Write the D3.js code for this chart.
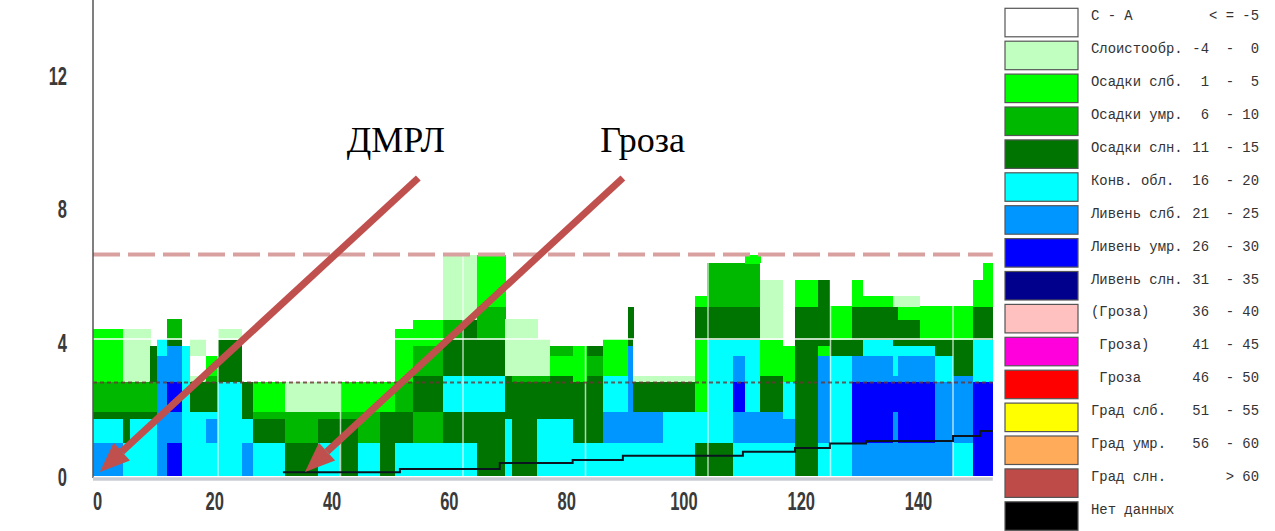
<!DOCTYPE html>
<html>
<head>
<meta charset="utf-8">
<title>ДМРЛ - вертикальный разрез</title>
<script src="https://cdn.jsdelivr.net/npm/d3@7"></script>
<style>
  body { margin: 0; background: #fff; }
  svg { display: block; }
</style>
</head>
<body>
<svg id="chart" width="1275" height="531"></svg>
<script>
// layer borders (height, km)
var levels = [-0.15, 0.85, 1.6, 1.8, 2.7, 2.9, 3.5, 3.8, 4.0, 4.3, 4.6, 5.0, 5.3, 5.8, 6.3, 6.55];

// start time of each column, min
var colStart = [-0.4, 4.5, 5.6, 8.9, 10.0, 11.7, 14.1, 15.4, 18.0, 20.0,
                23.9, 25.7, 30.9, 36.3, 39.9, 42.9, 46.4, 48.9, 51.8, 56.7,
                59.8, 62.3, 66.9, 68.0, 72.1, 74.2, 77.9, 80.2, 82.9, 86.9,
                87.8, 92.7, 97.9, 99.8, 104.1, 106.0, 108.5, 112.2, 114.2, 117.9,
                119.9, 123.5, 125.3, 130.2, 131.0, 134.6, 137.1, 140.0, 143.3, 144.9];
var colEnd = 146.5;

// phenomenon code per layer, from the ground up
// W С-А, L слоистообр., G/M/D осадки слб/умр/слн, C конв., B/U/N ливень слб/умр/слн
var profiles = [
  "BCDMGGGGG", "CDDMLLLLL", "CCDMLLLLL", "CCDMDDD", "BBBBBBCC",
  "UBBUBBBDMM", "CCCCCCC", "CCCDLWLL", "CBCDMG", "CCCCDDDDL",
  "BCDD", "CDMG", "DMML", "CDML", "DDMG",
  "CMMG", "DDDG", "CDDMGGGGG", "CMMDDMMGGGW", "CDDCCDDDMMLLLLL",
  "CDDCCDDDDDLLLLL", "DDDCCDDDMMMGGGG", "CCDDDLLLLL", "DDDDMLLLLL", "CCDDMLLL",
  "CCDDDGM", "CDDDGGGWWWW", "CDDDDMD", "CBBCCGGG", "CBBBBBBDDDDWW",
  "CBBDLWWW", "CCCDLWWW", "DCCGGGGGDDDG", "DCCCCCCCDDDMMM", "CBBUBBCCDDDMMM",
  "CBBCCCCCDDDMMMG", "CBBDDGGGLLLLLW", "CBCCGGGWWWWWW", "DDDDDDDDDDDGG", "CBBBBBGDDDDDD",
  "CCCCCCDDGGG", "BUUUBBDDDDDGG", "BUUUBBCCDDDG", "BBBUBCCDDDDL", "BUUUBBCDDDGL",
  "BUUUBBCDGGG", "BBBBCCDDGGG", "CBBBBDDDGGG", "UUUUCCCCDDDGG", "UUUUCCCCDDDGGG"
];

// stepped black line
var lineT = [30.6, 49.7, 66.0, 77.9, 86.1, 105.7, 114.2, 119.9, 125.8, 140.0, 144.4, 146.5];
var lineH = [-0.04, 0.06, 0.24, 0.33, 0.46, 0.58, 0.70, 0.83, 0.91, 1.06, 1.21, 1.21];

var dashedLevel = 6.56;
var dottedLevel = 2.68;

var xTicks = [0, 20, 40, 60, 80, 100, 120, 140];
var yTicks = [0, 4, 8, 12];

var codes = "WLGMDCBUN";
var legendNames = ["С - А", "Слоистообр.", "Осадки слб.", "Осадки умр.", "Осадки слн.",
  "Конв. обл.", "Ливень слб.", "Ливень умр.", "Ливень слн.", "(Гроза)", " Гроза)",
  " Гроза", "Град слб.", "Град умр.", "Град слн.", "Нет данных"];
var legendRanges = ["< = -5", "-4  -  0", " 1  -  5", " 6  - 10", "11  - 15", "16  - 20",
  "21  - 25", "26  - 30", "31  - 35", "36  - 40", "41  - 45", "46  - 50", "51  - 55",
  "56  - 60", "> 60", ""];
var legendColors = ["#ffffff", "#c0ffc0", "#00ff00", "#00b800", "#007400", "#00ffff",
  "#0096ff", "#0000ff", "#00008c", "#ffc0c0", "#ff00dd", "#ff0000", "#ffff00",
  "#ffab5a", "#be4b48", "#000000"];

// annotations
var notes = [
  {text: "ДМРЛ", t: 41.0, h: 9.67, t0: 52.7, h0: 8.88, t1: 0.7, h1: -0.03},
  {text: "Гроза", t: 82.4, h: 9.67, t0: 86.1, h0: 8.88, t1: 34.2, h1: -0.03}
];

var svg = d3.select("#chart");

var x = d3.scaleLinear().domain([0, 140]).range([95.5, 953]);
var y = d3.scaleLinear().domain([0, 12]).range([471, 75]);
var xLab = d3.scaleLinear().domain([0, 140]).range([97, 918]);
var yLab = d3.scaleLinear().domain([0, 12]).range([477, 76]);

var left = 93, right = x(colEnd), top = 8, bottom = 478;

// backgrounds
svg.append("rect").attr("x", 0).attr("y", 0).attr("width", 1275).attr("height", 531).attr("fill", "#fff");
svg.append("rect").attr("x", 7).attr("y", top).attr("width", 1268).attr("height", 531 - top).attr("fill", "#eeeeee");
svg.append("rect").attr("x", 7).attr("y", top).attr("width", 22).attr("height", 531 - top).attr("fill", "#e6eef8");

// cells
var cells = [];
profiles.forEach(function(p, i) {
  var t0 = colStart[i], t1 = i + 1 < colStart.length ? colStart[i + 1] : colEnd;
  p.split("").forEach(function(c, j) {
    cells.push({t0: t0, t1: t1, h0: levels[j], h1: levels[j + 1], color: legendColors[codes.indexOf(c)]});
  });
});

svg.append("g").selectAll("rect").data(cells).join("rect")
  .attr("x", d => x(d.t0))
  .attr("y", d => y(d.h1))
  .attr("width", d => x(d.t1) - x(d.t0) + 0.5)
  .attr("height", d => y(d.h0) - y(d.h1) + 0.5)
  .attr("fill", d => d.color)
  .attr("shape-rendering", "crispEdges");

// grid
var grid = svg.append("g").attr("stroke", "#fff");
grid.selectAll("line.v").data(xTicks.slice(1)).join("line")
  .attr("x1", d => x(d)).attr("x2", d => x(d))
  .attr("y1", top).attr("y2", bottom - 2)
  .attr("stroke-width", 1.5).attr("stroke-opacity", 0.7);
grid.selectAll("line.h").data(yTicks.slice(1)).join("line")
  .attr("x1", left).attr("x2", right)
  .attr("y1", d => y(d)).attr("y2", d => y(d))
  .attr("stroke-width", 2).attr("stroke-opacity", 0.75);

// reference levels
svg.append("line")
  .attr("x1", left).attr("x2", right)
  .attr("y1", y(dashedLevel)).attr("y2", y(dashedLevel))
  .attr("stroke", "#d9a0a0").attr("stroke-width", 4)
  .attr("stroke-dasharray", "27,8");
svg.append("line")
  .attr("x1", left).attr("x2", right)
  .attr("y1", y(dottedLevel)).attr("y2", y(dottedLevel))
  .attr("stroke", "#6b3535").attr("stroke-width", 2).attr("stroke-opacity", 0.8)
  .attr("stroke-dasharray", "4,3");

// stepped line
var pts = lineT.map((t, i) => ({t: t, h: lineH[i]}));
svg.append("path").datum(pts)
  .attr("fill", "none").attr("stroke", "#0a1520").attr("stroke-width", 2)
  .attr("d", d3.line().x(d => x(d.t)).y(d => y(d.h)).curve(d3.curveStepAfter));

// axes lines
svg.append("line").attr("x1", left).attr("x2", left).attr("y1", top).attr("y2", bottom)
  .attr("stroke", "#555").attr("stroke-width", 1.5);
svg.append("line").attr("x1", left).attr("x2", right).attr("y1", bottom + 1).attr("y2", bottom + 1)
  .attr("stroke", "#c8ccd2").attr("stroke-width", 3.5);

// tick labels
var xAxis = svg.append("g").attr("transform", "translate(0,492)")
  .call(d3.axisBottom(xLab).tickValues(xTicks).tickSize(0).tickPadding(0));
var yAxis = svg.append("g").attr("transform", "translate(67,0)")
  .call(d3.axisLeft(yLab).tickValues(yTicks).tickSize(0).tickPadding(0));
[xAxis, yAxis].forEach(function(a) {
  a.select(".domain").remove();
  a.selectAll("text")
    .attr("transform", "scale(0.66,1)")
    .attr("fill", "#3a3a3a")
    .style("font-family", "'Liberation Sans', Arial, sans-serif")
    .style("font-weight", "bold")
    .style("font-size", "25px");
});

// legend
var leg = svg.append("g").selectAll("g").data(legendNames).join("g")
  .attr("transform", (d, i) => "translate(0," + (8.3 + i * 32.9) + ")");
leg.append("rect")
  .attr("x", 1005).attr("y", 0).attr("width", 73).attr("height", 28.5)
  .attr("fill", (d, i) => legendColors[i])
  .attr("stroke", "#555").attr("stroke-width", 1.2);
leg.append("text")
  .attr("x", 1091).attr("y", 12)
  .style("white-space", "pre")
  .attr("fill", "#333")
  .style("font-family", "'Liberation Mono', 'Courier New', monospace")
  .style("font-size", "13.9px")
  .text(d => d);
leg.append("text")
  .attr("x", 1259).attr("y", 12)
  .attr("text-anchor", "end")
  .style("white-space", "pre")
  .attr("fill", "#333")
  .style("font-family", "'Liberation Mono', 'Courier New', monospace")
  .style("font-size", "13.9px")
  .text((d, i) => legendRanges[i]);

// annotations with arrows
var ann = svg.append("g").selectAll("g").data(notes).join("g");
ann.append("text")
  .attr("x", d => x(d.t)).attr("y", d => y(d.h))
  .style("font-family", "'Liberation Serif', 'Times New Roman', serif")
  .style("font-size", "36px")
  .attr("fill", "#000")
  .text(d => d.text);
ann.each(function(d) {
  var g = d3.select(this);
  var xa = x(d.t0), ya = y(d.h0), xb = x(d.t1), yb = y(d.h1);
  var ang = Math.atan2(yb - ya, xb - xa);
  var len = 30, hw = 12;
  var bx = xb - len * Math.cos(ang), by = yb - len * Math.sin(ang);
  g.append("line")
    .attr("x1", xa).attr("y1", ya).attr("x2", bx).attr("y2", by)
    .attr("stroke", "#c0504d").attr("stroke-width", 7);
  g.append("path")
    .attr("d", d3.line()([
      [xb, yb],
      [bx + hw * Math.sin(ang), by - hw * Math.cos(ang)],
      [bx - hw * Math.sin(ang), by + hw * Math.cos(ang)]
    ]) + "Z")
    .attr("fill", "#c0504d");
});
</script>
</body>
</html>
